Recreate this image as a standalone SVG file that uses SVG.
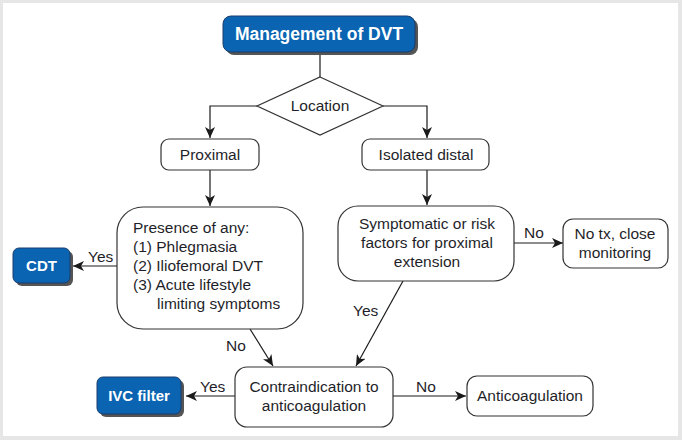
<svg xmlns="http://www.w3.org/2000/svg" width="682" height="440" viewBox="0 0 682 440">
<defs>
<marker id="ah" markerUnits="userSpaceOnUse" markerWidth="11" markerHeight="10" refX="11" refY="5" orient="auto">
<path d="M0,0 L11,5 L0,10 L3,5 z" fill="#1a1a1a"/>
</marker>
<style>
.box{fill:#fff;stroke:#333;stroke-width:1.2}
.blue{fill:#0a64b2;stroke:#1a3d6c;stroke-width:1}
.shd{fill:#555}
.t{font-family:"Liberation Sans",Arial,sans-serif;font-size:15.5px;fill:#1f1f2a}
.tb{font-family:"Liberation Sans",Arial,sans-serif;font-size:15px;font-weight:bold;fill:#fff}
.c{text-anchor:middle}
.ln{fill:none;stroke:#1a1a1a;stroke-width:1.2}
.ar{marker-end:url(#ah)}
</style>
</defs>
<rect x="0" y="0" width="682" height="440" fill="#e6e6e6"/>
<rect x="3" y="3" width="675" height="433" fill="#fff"/>

<g id="connectors">
<path class="ln" d="M320,52 V77"/>
<path class="ln ar" d="M257,106 H210 V138"/>
<path class="ln ar" d="M383,106 H427 V138"/>
<path class="ln ar" d="M210,170 V206"/>
<path class="ln ar" d="M427,170 V205"/>
<path class="ln ar" d="M117,266 H73"/>
<path class="ln ar" d="M514,243 H563"/>
<path class="ln ar" d="M250,329 L273,366"/>
<path class="ln ar" d="M403,281 L356,366"/>
<path class="ln ar" d="M235,396 H186"/>
<path class="ln ar" d="M393,396 H466"/>
<text class="t" x="88" y="262">Yes</text>
<text class="t" x="524" y="238">No</text>
<text class="t" x="226" y="351">No</text>
<text class="t" x="353" y="316">Yes</text>
<text class="t" x="200" y="392">Yes</text>
<text class="t" x="416" y="392">No</text>
</g>

<g id="mgmt">
<rect class="shd" x="226" y="19" width="192" height="36" rx="8"/>
<rect class="blue" x="223" y="16" width="192" height="36" rx="8"/>
<text class="tb c" x="319" y="40" style="font-size:17.5px">Management of DVT</text>
</g>

<g id="location">
<polygon class="box" points="320,77 383,106 320,135 257,106"/>
<text class="t c" x="320" y="111">Location</text>
</g>

<g id="proximal">
<rect class="box" x="161" y="139" width="98" height="31" rx="8"/>
<text class="t c" x="210" y="160">Proximal</text>
</g>

<g id="distal">
<rect class="box" x="362" y="139" width="127" height="31" rx="8"/>
<text class="t c" x="426" y="160">Isolated distal</text>
</g>

<g id="presence">
<rect class="box" x="117" y="207" width="186" height="122" rx="26"/>
<text class="t" x="133" y="233">Presence of any:</text>
<text class="t" x="133" y="252">(1) Phlegmasia</text>
<text class="t" x="133" y="271">(2) Iliofemoral DVT</text>
<text class="t" x="133" y="290">(3) Acute lifestyle</text>
<text class="t" x="157" y="309">limiting symptoms</text>
</g>

<g id="symptomatic">
<rect class="box" x="338" y="206" width="176" height="75" rx="20"/>
<text class="t c" x="427" y="229">Symptomatic or risk</text>
<text class="t c" x="427" y="248">factors for proximal</text>
<text class="t c" x="427" y="267">extension</text>
</g>

<g id="notx">
<rect class="box" x="563" y="219" width="105" height="49" rx="10"/>
<text class="t c" x="615" y="239">No tx, close</text>
<text class="t c" x="615" y="258">monitoring</text>
</g>

<g id="cdt">
<rect class="shd" x="16" y="251" width="57" height="35" rx="6"/>
<rect class="blue" x="13" y="248" width="57" height="35" rx="6"/>
<text class="tb c" x="41.5" y="271">CDT</text>
</g>

<g id="contra">
<rect class="box" x="235" y="367" width="158" height="60" rx="12"/>
<text class="t c" x="314" y="392">Contraindication to</text>
<text class="t c" x="314" y="411">anticoagulation</text>
</g>

<g id="ivc">
<rect class="shd" x="100" y="380" width="84" height="37" rx="6"/>
<rect class="blue" x="97" y="377" width="84" height="37" rx="6"/>
<text class="tb c" x="139" y="401">IVC filter</text>
</g>

<g id="anticoag">
<rect class="box" x="467" y="376" width="126" height="40" rx="10"/>
<text class="t c" x="530" y="401">Anticoagulation</text>
</g>
</svg>
